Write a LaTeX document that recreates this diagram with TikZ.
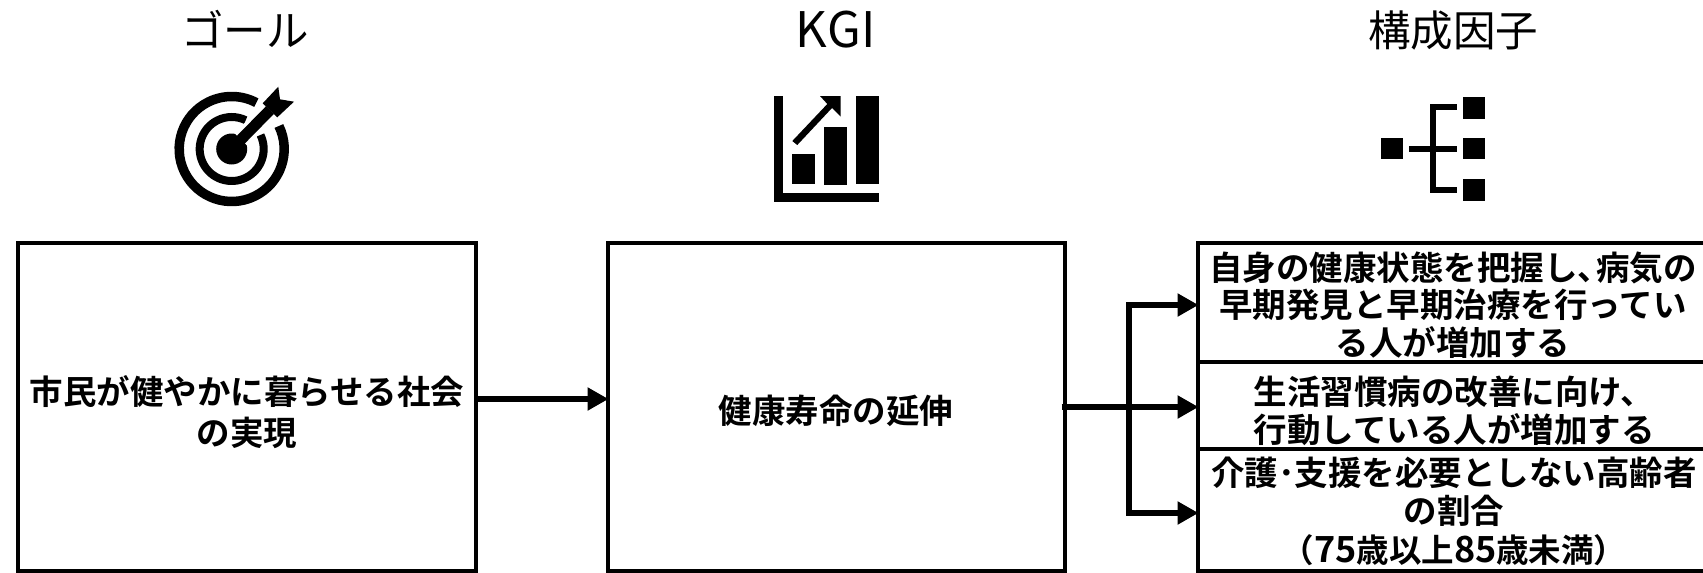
\documentclass[tikz,border=0pt]{standalone}
\usepackage{fontspec}
\setmainfont{Noto Sans CJK JP}[BoldFont={Noto Sans CJK JP Bold}]
\usetikzlibrary{arrows.meta,calc}
\tikzset{
  x=1pt,y=-1pt,
  boxnode/.style={draw=black,line width=4pt,fill=white,inner sep=0pt,outer sep=0pt,rectangle},
  titletext/.style={inner sep=0pt,font=\fontsize{42.5}{46}\selectfont},
  bodytext/.style={inner sep=0pt,align=center,font=\bfseries\fontsize{33.5}{38}\selectfont},
  flow/.style={line width=6.5pt,-{Triangle[length=21pt,width=22pt]},shorten >=-0.5pt},
  iconring/.style={line cap=butt},
}
\begin{document}
\begin{tikzpicture}
\useasboundingbox (0,0) rectangle (1703,573);
\fill[white] (0,0) rectangle (1703,573);

% titles
\node[titletext] (t1) at (245,29) {ゴール};
\node[titletext,font=\addfontfeature{LetterSpace=2}\fontsize{49}{54}\selectfont] (t2) at (836,30) {KGI};
\node[titletext] (t3) at (1453,30) {構成因子};

% target icon
\fill[black] (231.7,149) circle (15.5);
\draw[iconring,line width=9.5pt] (231.7,149) ++(-26:52.5) arc[start angle=-26,end angle=298,radius=52.5];
\draw[iconring,line width=8pt] (231.7,149) ++(-26:32) arc[start angle=-26,end angle=296,radius=32];
\draw[white,line width=18pt] (241,139.5) -- (270,110);
\draw[black,line width=11pt] (231.7,149) -- (270,110);
\fill[black] (262.7,103.3) -- (278.3,86.7) -- (280,99.3) -- (294,101.7) -- (277.3,117.3) -- cycle;

% chart icon
\fill[black] (774,96) rectangle (783.3,193.3);
\fill[black] (774,193.3) rectangle (878.7,202.3);
\fill[black] (792.3,154) rectangle (815,184);
\fill[black] (824,127) rectangle (847,185);
\fill[black] (856,96) rectangle (878.7,184);
\fill[black] (820,96) -- (840.7,96) -- (840.7,116.7) -- (832,108) -- (797.3,145) -- (792.3,141) -- (827.3,104) -- cycle;

% tree icon
\fill[black] (1381.3,138) rectangle (1402.7,159.3);
\fill[black] (1463.3,97) rectangle (1485,119);
\fill[black] (1463.3,138) rectangle (1484.7,159.3);
\fill[black] (1463.3,179) rectangle (1485,200.7);
\fill[black] (1430,104) rectangle (1436,193.3);
\fill[black] (1430,104) rectangle (1457.3,110);
\fill[black] (1430,187.3) rectangle (1457.3,193.3);
\fill[black] (1409,145.7) rectangle (1457.3,151.7);

% boxes
\node[boxnode,minimum width=458pt,minimum height=328pt] (goal) at (246.5,407) {};
\node[boxnode,minimum width=456.5pt,minimum height=328pt] (kgi) at (836.25,407) {};
\node[boxnode,minimum width=510pt,minimum height=119pt] (r1) at (1453,302.5) {};
\node[boxnode,minimum width=510pt,minimum height=87.5pt] (r2) at (1453,405.5) {};
\node[boxnode,minimum width=510pt,minimum height=122pt] (r3) at (1453,510) {};

% box texts
\node[bodytext,font=\bfseries\fontsize{33.5}{41}\selectfont] (goaltext) at (247,412) {市民が健やかに暮らせる社会\\の実現};
\node[bodytext] (kgitext) at (836,411) {健康寿命の延伸};
\node[bodytext,font=\bfseries\fontsize{33.5}{37.5}\selectfont] (r1text) at (1453,305) {自身の健康状態を把握し、\hspace{-15pt}病気の\\早期発見と早期治療を行ってい\\る人が増加する};
\node[bodytext] (r2text) at (1454,411) {生活習慣病の改善に向け、\\行動している人が増加する};
\node[bodytext,font=\bfseries\fontsize{32.5}{38.5}\selectfont] (r3text) at (1454,511) {{\fontsize{33.5}{38.5}\selectfont 介護･支援を必要としない高齢者}\\{\fontsize{33.5}{38.5}\selectfont の割合}\\（{\fontsize{36}{38.5}\selectfont 75}歳以上{\fontsize{36}{38.5}\selectfont 85}歳未満）};

% connectors
\coordinate (gout) at ($(goal.east)+(0,-8)$);
\coordinate (kin) at ($(kgi.west)+(0,-8)$);
\draw[flow] (gout) -- (kin);
\coordinate (kout) at ($(kgi.east)+(-3,0)$);
\coordinate (hub) at (1129,407);
\coordinate (r1in) at ($(r1.west)+(0,2.5)$);
\coordinate (r2in) at ($(r2.west)+(0,1.5)$);
\coordinate (r3in) at ($(r3.west)+(0,3)$);
\draw[flow] (kout) -- (r2in);
\draw[flow] (hub) |- (r1in);
\draw[flow] (hub) |- (r3in);
\end{tikzpicture}
\end{document}
